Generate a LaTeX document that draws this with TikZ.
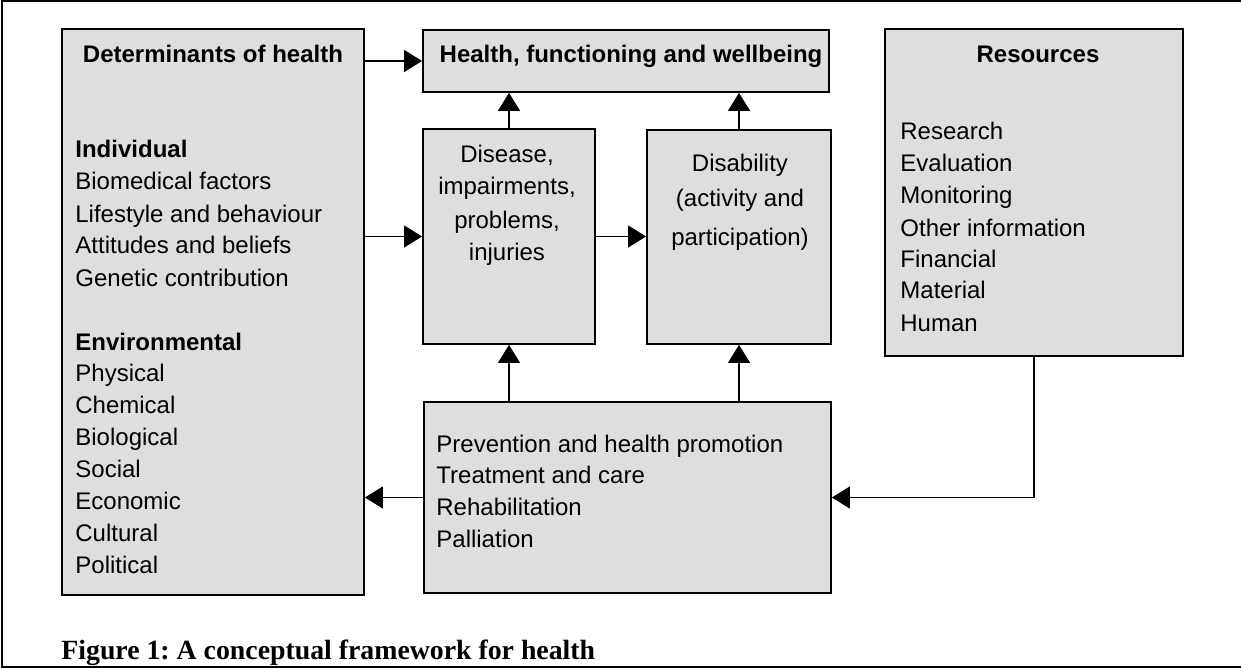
\documentclass[tikz,border=0pt]{standalone}
\usepackage{fontspec}
\setmainfont{Liberation Sans}
\newfontfamily\capfont{Liberation Serif}
\usetikzlibrary{arrows.meta,fit}
\definecolor{boxgray}{RGB}{222,222,222}
\frenchspacing
\begin{document}
\begin{tikzpicture}[x=0.5pt,y=-0.5pt,
  box/.style={draw=black, fill=boxgray, line width=0.9pt, inner sep=0pt},
  txt/.style={font=\fontsize{12pt}{14pt}\selectfont, inner sep=0pt},
  txtb/.style={font=\fontsize{12pt}{14pt}\selectfont\bfseries, inner sep=0pt},
  arr/.style={line width=0.6pt, -{Triangle[length=9pt,width=11pt]}},
  frame/.style={line width=1pt}]
\useasboundingbox (0,0) rectangle (1241,668);
% outer frame
\draw[frame] (1241,1) -- (2,1) -- (2,667) -- (1241,667);
% boxes
\node[box, fit={(62,29) (364,595)}] (det) {};
\node[box, fit={(423,30) (829,92)}] (health) {};
\node[box, fit={(423,129) (595,344)}] (dis) {};
\node[box, fit={(647,130) (831,344)}] (disab) {};
\node[box, fit={(885,29) (1183,356)}] (res) {};
\node[box, fit={(424,402) (831,593)}] (prev) {};
% determinants text
\node[txtb, anchor=base] (dett) at (213,63) {Determinants of health};
\node[txtb, anchor=base west] (ind) at (75,158) {Individual};
\foreach[count=\i] \t/\yy in {Biomedical factors/190, Lifestyle and behaviour/222, Attitudes and beliefs/254, Genetic contribution/286}
  \node[txt, anchor=base west] (dli\i) at (75,\yy) {\t};
\node[txtb, anchor=base west] (env) at (75,350) {Environmental};
\foreach[count=\i] \t/\yy in {Physical/381, Chemical/413, Biological/445, Social/477, Economic/509, Cultural/541, Political/573}
  \node[txt, anchor=base west] (dle\i) at (75,\yy) {\t};
% health text
\node[txtb, anchor=base] (healtht) at (631,63) {Health, functioning and wellbeing};
% disease text
\node[txt, anchor=base] (dist1) at (507,163) {Disease,};
\node[txt, anchor=base] (dist2) at (507,195) {impairments,};
\node[txt, anchor=base] (dist3) at (507,228) {problems,};
\node[txt, anchor=base] (dist4) at (507,260) {injuries};
% disability text
\node[txt, anchor=base] (dbt1) at (740,172) {Disability};
\node[txt, anchor=base] (dbt2) at (740,207) {(activity and};
\node[txt, anchor=base] (dbt3) at (740,245) {participation)};
% resources text
\node[txtb, anchor=base] (rest) at (1038,63) {Resources};
\foreach[count=\i] \t/\yy in {Research/140, Evaluation/172, Monitoring/204, Other information/236, Financial/267, Material/299, Human/331}
  \node[txt, anchor=base west] (rl\i) at (900,\yy) {\t};
% prevention text
\foreach[count=\i] \t/\yy in {Prevention and health promotion/452, Treatment and care/483, Rehabilitation/515, Palliation/547}
  \node[txt, anchor=base west] (pl\i) at (436,\yy) {\t};
% caption
\node[inner sep=0pt, anchor=base west, font=\capfont\bfseries\fontsize{13.9pt}{16pt}\selectfont] (cap) at (61,659) {Figure 1: A conceptual framework for health};
% connectors
\draw[arr] (det.east |- health.west) -- (health.west);
\draw[arr] (det.east |- dis.west) -- (dis.west);
\draw[arr] (dis.east) -- (disab.west |- dis.east);
\draw[arr] (dis.north) -- (health.south -| dis.north);
\draw[arr] (disab.north) -- (health.south -| disab.north);
\draw[arr] (prev.north -| dis.south) -- (dis.south);
\draw[arr] (prev.north -| disab.south) -- (disab.south);
\draw[arr] (prev.west) -- (det.east |- prev.west);
\draw[arr] (res.south) |- (prev.east);
\end{tikzpicture}
\end{document}
